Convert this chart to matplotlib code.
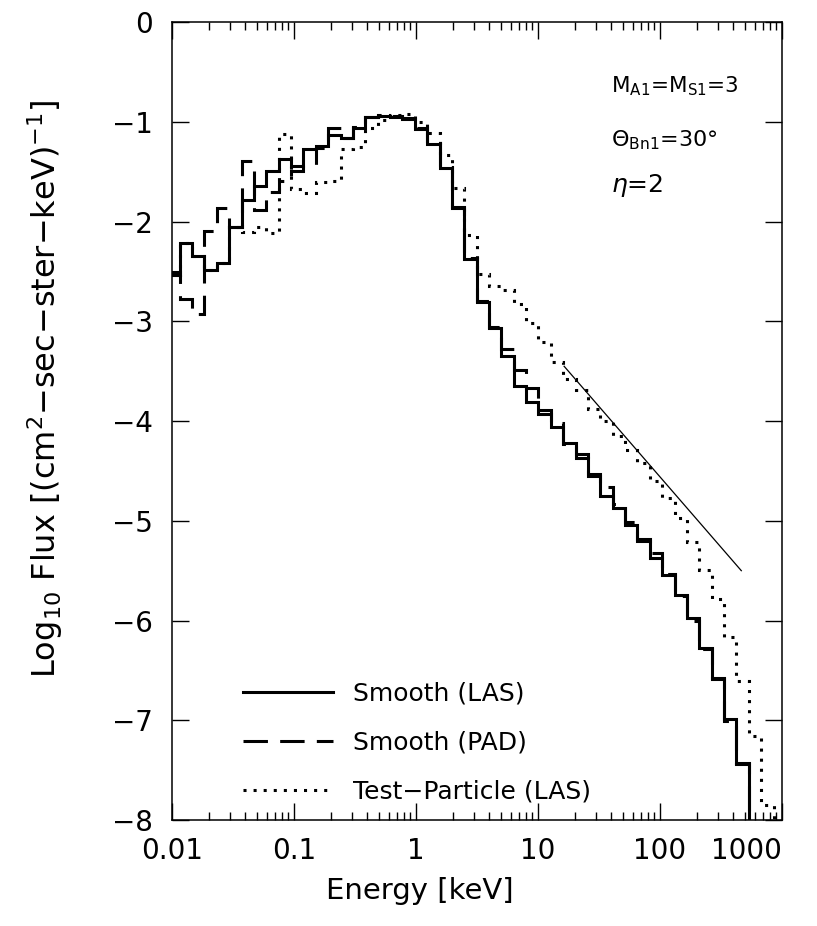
import numpy as np
import matplotlib.pyplot as plt
from matplotlib.ticker import LogLocator, NullFormatter

# energy bins: ~0.1 decade wide, first bin starts just left of 0.01 keV
log_edges = np.linspace(-2.038, 3.033, 51)
energy_edges = 10 ** log_edges

# log10 flux per bin (-9 = below the plot)
smooth_las = [-2.53, -2.21, -2.34, -2.48, -2.41, -2.05, -1.785, -1.64, -1.49, -1.372,
              -1.44, -1.27, -1.24, -1.135, -1.165, -1.06, -0.95, -0.94, -0.95, -0.972,
              -1.072, -1.22, -1.46, -1.86, -2.373, -2.805, -3.065, -3.35, -3.65, -3.81,
              -3.93, -4.06, -4.215, -4.37, -4.55, -4.75, -4.87, -5.04, -5.20, -5.37,
              -5.54, -5.74, -5.97, -6.28, -6.58, -6.99, -7.44, -9.0, -9.0, -9.0]

smooth_pad = [-2.50, -2.78, -2.93, -2.09, -1.86, -2.05, -1.39, -1.88, -1.70, -1.59,
              -1.49, -1.43, -1.26, -1.06, -1.16, -1.05, -0.955, -0.935, -0.945, -0.965,
              -1.065, -1.21, -1.45, -1.85, -2.365, -2.795, -3.055, -3.28, -3.485, -3.665,
              -3.885, -4.02, -4.225, -4.325, -4.535, -4.66, -4.835, -5.01, -5.185, -5.325,
              -5.53, -5.75, -6.00, -6.29, -6.59, -7.01, -7.43, -9.0, -9.0, -9.0]

test_particle = [-2.53, -2.21, -2.34, -2.48, -2.41, -2.05, -2.10, -2.05, -2.11, -1.12,
                 -1.67, -1.71, -1.60, -1.59, -1.27, -1.25, -1.06, -0.98, -0.935, -0.92,
                 -1.00, -1.11, -1.33, -1.66, -2.13, -2.52, -2.65, -2.69, -2.83, -3.02,
                 -3.21, -3.41, -3.58, -3.69, -3.88, -4.00, -4.15, -4.29, -4.42, -4.60,
                 -4.77, -4.97, -5.21, -5.495, -5.78, -6.17, -6.61, -7.16, -7.85, -9.0]

# power-law reference line (end points)
pl_energy = [16.4, 465.0]
pl_flux = [-3.45, -5.50]

tick_vals = [0.01, 0.1, 1, 10, 100, 1000]
tick_text = ['0.01', '0.1', '1', '10', '100', '1000']

plt.rcParams['font.family'] = 'DejaVu Sans'

fig = plt.figure(figsize=(8.17, 9.26), dpi=100)
ax = fig.add_axes([0.2105, 0.1145, 0.7465, 0.8615])

ax.stairs(smooth_las, energy_edges, baseline=None, color='black', lw=2.2,
          label='Smooth (LAS)')
ax.stairs(smooth_pad, energy_edges, baseline=None, color='black', lw=2.2,
          linestyle=(0, (8, 4)), label='Smooth (PAD)')
ax.stairs(test_particle, energy_edges, baseline=None, color='black', lw=2.2,
          linestyle=(0, (1, 2.3)), label='Test\u2212Particle (LAS)')
ax.plot(pl_energy, pl_flux, color='black', lw=0.9)

ax.set_xscale('log')
ax.set_xticks(tick_vals, labels=tick_text)
ax.xaxis.set_minor_locator(LogLocator(base=10, subs=np.arange(2, 10)))
ax.xaxis.set_minor_formatter(NullFormatter())
ax.set_yticks(range(-8, 1))

ax.tick_params(which='both', direction='in', top=True, right=True, width=1,
               labelsize=20, color='black')
ax.tick_params(which='major', length=12)
ax.tick_params(which='minor', length=6)
ax.tick_params(axis='x', pad=12)
ax.tick_params(axis='y', pad=14)
for sp in ax.spines.values():
    sp.set_linewidth(1.1)

ax.set_xlabel('Energy [keV]', fontsize=21)
ax.xaxis.set_label_coords(0.407, -0.071)
ax.set_ylabel('Log$_{10}$ Flux [(cm$^{2}$\u2212sec\u2212ster\u2212keV)$^{\u22121}$]',
              fontsize=23)
ax.yaxis.set_label_coords(-0.176, 0.54)

ax.text(0.72, 0.92, r'M$_{\rm A1}$=M$_{\rm S1}$=3', transform=ax.transAxes,
        fontsize=15.5, va='center')
ax.text(0.72, 0.852, r'$\Theta_{\rm Bn1}$=30$\degree$', transform=ax.transAxes,
        fontsize=16, va='center')
ax.text(0.72, 0.795, r'$\eta$=2', transform=ax.transAxes,
        fontsize=18, va='center')

ax.legend(loc='lower left', bbox_to_anchor=(0.08, -0.008), frameon=False,
          fontsize=18, handlelength=3.6, handletextpad=0.8, labelspacing=1.0)

ax.set_xlim(0.01, 1000)
ax.set_ylim(-8, 0)
fig.canvas.draw()
ax.get_xticklabels()[-1].set_horizontalalignment('right')

fig.savefig('out.png', dpi=100)
